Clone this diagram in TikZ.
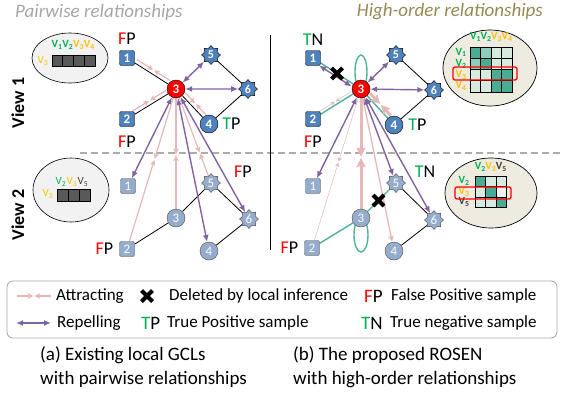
\documentclass[tikz,border=0pt]{standalone}
\usepackage{fontspec}
\setmainfont{Carlito}
\usetikzlibrary{arrows.meta,positioning,calc,shapes.geometric,backgrounds}

\newcommand{\fsize}[1]{\fontsize{#1}{#1}\selectfont}
% two pink arrows meeting at a point between the nodes
\newcommand{\attract}[4][]{%
  \draw[pull,#1] (#2) -- ($(#2)!#4!(#3)$);
  \draw[pull,#1] (#3) -- ($(#2)!#4!(#3)$);}

\definecolor{nodeblue}{RGB}{79,129,189}
\definecolor{nodepale}{RGB}{149,172,204}
\definecolor{attrpink}{RGB}{230,184,183}
\definecolor{repurple}{RGB}{128,100,162}
\definecolor{hyperteal}{RGB}{80,178,155}
\definecolor{fpred}{RGB}{255,0,0}
\definecolor{tpgreen}{RGB}{0,176,80}
\definecolor{vyellow}{RGB}{255,192,0}
\definecolor{cellD}{RGB}{75,172,150}
\definecolor{cellM}{RGB}{140,205,188}
\definecolor{cellL}{RGB}{214,234,224}
\definecolor{cellW}{RGB}{238,243,235}
\definecolor{beige}{RGB}{238,236,225}
\definecolor{bargray}{RGB}{89,89,89}
\definecolor{titlegray}{RGB}{166,166,166}
\definecolor{titleolive}{RGB}{148,138,84}

\tikzset{
    sqnode/.style={rectangle, rounded corners=2pt, draw=black, fill=nodeblue, minimum size=15pt, inner sep=0pt, text=white, font=\fsize{13}\bfseries},
    cirnode/.style={circle, draw=black, fill=nodeblue, minimum size=18pt, inner sep=0pt, text=white, font=\fsize{13}\bfseries},
    starnode/.style={star, star points=8, star point ratio=1.35, draw=black, fill=nodeblue, minimum size=19pt, inner sep=0pt, text=white, font=\fsize{12}\bfseries},
    hubnode/.style={cirnode, fill=red},
    faded/.style={fill=nodepale, draw=black!70, font=\fsize{13}},
    lbl/.style={inner sep=0pt, font=\fsize{18}},
    blk/.style={draw=black, line width=0.8pt},
    repel/.style={{Latex[length=7pt,width=6pt]}-{Latex[length=7pt,width=6pt]}, draw=repurple, line width=1.4pt},
    pull/.style={-{Stealth[length=3pt 2, width=3pt 2, inset=1pt]}, draw=attrpink, line width=1.2pt, shorten >=0.6pt},
    hyper/.style={draw=hyperteal, line width=1.4pt},
    ttl/.style={inner sep=0pt, font=\fsize{19}\itshape},
    viewlab/.style={rotate=90, inner sep=0pt, font=\fsize{18}\bfseries},
    vsub/.style={inner sep=0pt, font=\fsize{11}\bfseries},
    legtext/.style={inner sep=0pt, anchor=west, font=\fsize{17}},
    delmark/.pic={\draw[line width=4pt] (-5.5,-5.5) -- (5.5,5.5) (-5.5,5.5) -- (5.5,-5.5);}
}

\begin{document}
\begin{tikzpicture}[x=1pt, y=-1pt]
    \useasboundingbox (0,0) rectangle (565,402);

    % titles
    \node[ttl, text=titlegray, anchor=west] at (15,12) {Pairwise relationships};
    \node[ttl, text=titleolive, anchor=east] at (543,12) {High-order relationships};
    \node[viewlab] at (18,103) {View 1};
    \node[viewlab] at (18,215) {View 2};

    % feature bars (left)
    \draw[fill=black!5, line width=0.6pt] (70,58) ellipse [x radius=38pt, y radius=25pt];
    \foreach \i in {0,...,3}
      \draw[fill=bargray, line width=0.6pt] ({52+\i*10.75},55) rectangle +(10.75,11);
    \foreach \k/\col [count=\i from 0] in {1/tpgreen,2/tpgreen,3/vyellow,4/vyellow}
      \node[vsub, text=\col] at ({57+\i*10.75},45) {V\textsubscript{\k}};
    \node[vsub, text=vyellow, font=\fsize{11}] at (43,61) {V\textsubscript{3}};

    \draw[fill=black!5, line width=0.6pt] (71,190) ellipse [x radius=38pt, y radius=32pt];
    \foreach \i in {0,...,2}
      \draw[fill=bargray, line width=0.6pt] ({57+\i*11},189) rectangle +(11,12);
    \foreach \k/\col [count=\i from 0] in {2/tpgreen,3/vyellow,5/black!75}
      \node[vsub, text=\col, font=\fsize{11}] at ({61+\i*11},182) {V\textsubscript{\k}};
    \node[vsub, text=vyellow, font=\fsize{11}] at (48,194) {V\textsubscript{3}};

    % similarity matrices (right)
    \draw[fill=beige, line width=0.7pt] (490,68) ellipse [x radius=47pt, y radius=38pt];
    \foreach \row [count=\i from 0] in {{D,M,L,L},{M,D,L,L},{L,L,D,D},{L,L,D,D}}
      \foreach \col [count=\j from 0] in \row
        \draw[fill=cell\col, line width=0.6pt] ({470+\j*10.5},{47+\i*11.2}) rectangle +(10.5,11.2);
    \foreach \k/\col [count=\i from 0] in {1/tpgreen,2/tpgreen,3/vyellow,4/vyellow} {
      \node[vsub, text=\col] at ({475.5+\i*10.5},37) {V\textsubscript{\k}};
      \node[vsub, text=\col] at (461,{52.6+\i*11.2}) {V\textsubscript{\k}};
    }
    \draw[red, line width=1.3pt, rounded corners=2pt] (453,67) rectangle (517,80);

    \draw[fill=beige, line width=0.7pt] (491,193) ellipse [x radius=46pt, y radius=35pt];
    \foreach \row [count=\i from 0] in {{D,L,L},{L,D,W},{L,L,D}}
      \foreach \col [count=\j from 0] in \row
        \draw[fill=cell\col, line width=0.6pt] ({475+\j*10.5},{176+\i*10.5}) rectangle +(10.5,10.5);
    \foreach \k/\col [count=\i from 0] in {2/tpgreen,3/vyellow,5/black!75} {
      \node[vsub, text=\col] at ({480.25+\i*10.5},167) {V\textsubscript{\k}};
      \node[vsub, text=\col] at (464,{181.25+\i*10.5}) {V\textsubscript{\k}};
    }
    \draw[red, line width=1.3pt, rounded corners=2pt] (455,187) rectangle (511,199);

    % pairwise graph, view 1
    \node[sqnode] (l1) at (127,58) {1};
    \node[starnode] (l5) at (211,55) {5};
    \node[hubnode] (l3) at (176,89) {3};
    \node[starnode] (l6) at (248,89) {6};
    \node[sqnode] (l2) at (127,119) {2};
    \node[cirnode] (l4) at (209,124) {4};
    \node[lbl, above=6pt of l1] {\textcolor{fpred}{F}P};
    \node[lbl, below=9pt of l2] {\textcolor{fpred}{F}P};
    \node[lbl, right=4pt of l4] {\textcolor{tpgreen}{T}P};

    % pairwise graph, view 2
    \node[sqnode, faded] (m1) at (128,186) {1};
    \node[starnode, faded] (m5) at (211,183) {5};
    \node[cirnode, faded] (m3) at (176,218) {3};
    \node[starnode, faded] (m6) at (249,219) {6};
    \node[sqnode, faded] (m2) at (127,249) {2};
    \node[cirnode, faded] (m4) at (209,251) {4};
    \node[lbl, left=6pt of m2] {\textcolor{fpred}{F}P};
    \node[lbl] at (243,172) {\textcolor{fpred}{F}P};

    % high-order graph, view 1
    \node[sqnode] (r1) at (313,58) {1};
    \node[starnode] (r5) at (396,55) {5};
    \node[hubnode] (r3) at (361,89) {3};
    \node[starnode] (r6) at (434,90) {6};
    \node[sqnode] (r2) at (313,119) {2};
    \node[cirnode] (r4) at (394,125) {4};
    \node[lbl, above=5pt of r1] {\textcolor{tpgreen}{T}N};
    \node[lbl, below=9pt of r2] {\textcolor{fpred}{F}P};
    \node[lbl, right=5pt of r4] {\textcolor{tpgreen}{T}P};

    % high-order graph, view 2
    \node[sqnode, faded] (s1) at (313,186) {1};
    \node[starnode, faded] (s5) at (396,183) {5};
    \node[cirnode, faded] (s3) at (361,218) {3};
    \node[starnode, faded] (s6) at (434,220) {6};
    \node[sqnode, faded] (s2) at (312,248) {2};
    \node[cirnode, faded] (s4) at (394,251) {4};
    \node[lbl, left=6pt of s2] {\textcolor{fpred}{F}P};
    \node[lbl] at (425,172) {\textcolor{tpgreen}{T}N};

    \begin{scope}[on background layer]
      \draw[gray!65, line width=1.5pt, dash pattern=on 7pt off 4pt] (80,153) -- (560,153);
      \draw[line width=0.8pt] (270,35) -- (270,250);

      % left: edges inside the views
      \draw[blk] (l1) -- (l3);
      \draw[blk] (l2) -- (l3);
      \draw[blk] (l3) -- (l4);
      \draw[blk] (l5) -- (l6) -- (l4);
      \draw[repel] (l3) -- (l5);
      \draw[repel] (l3) -- (l6);
      \attract[transform canvas={shift={(2.1,-3.4)}}]{l1}{l3}{0.5}
      \attract[transform canvas={shift={(-2,-3.4)}}]{l2}{l3}{0.5}
      \attract[transform canvas={shift={(3,-2.8)}}]{l3}{l4}{0.5}
      \draw[blk] (m2) -- (m3) -- (m5) -- (m6) -- (m4);

      % left: across the views
      \draw[repel] (l3) -- (m1);
      \draw[repel] (l3) -- (m4);
      \draw[repel] (l3) -- (m6);
      \attract{l3}{m2}{0.44}
      \attract{l3}{m3}{0.51}
      \attract{l3}{m5}{0.68}

      % right: edges inside the views
      \draw[hyper] (r1) -- (r3);
      \draw[hyper] (r2) -- (r3);
      \draw[hyper] (r3) -- (r4);
      \draw[hyper] ($(r3)+(0,-17)$) ellipse [x radius=6pt, y radius=17pt];
      \draw[repel, transform canvas={shift={(-1.6,2.5)}}] (r1) -- (r3);
      \attract[line width=0.5pt, transform canvas={shift={(-1.6,-2.6)}}]{r2}{r3}{0.5}
      \attract[line width=3pt, transform canvas={shift={(3,-2.5)}}]{r3}{r4}{0.5}
      \draw[repel] (r3) -- (r5);
      \draw[repel] (r3) -- (r6);
      \draw[blk] (r5) -- (r6) -- (r4);
      \draw[hyper] (s2) -- (s3) -- (s5);
      \draw[hyper] ($(s3)+(0,17)$) ellipse [x radius=7pt, y radius=17pt];
      \draw[blk] (s5) -- (s6) -- (s4);

      % right: across the views
      \draw[repel] (r3) -- (s1);
      \attract[line width=0.5pt]{r3}{s2}{0.46}
      \attract[line width=3pt]{r3}{s3}{0.53}
      \draw[pull, line width=1.3pt] (r3) -- (s4);
      \draw[repel] (r3) -- (s5);
      \draw[repel] (r3) -- (s6);
    \end{scope}

    % edges removed by local inference
    \pic at ($(r1)!0.5!(r3)$) {delmark};
    \pic at ($(s3)!0.5!(s5)$) {delmark};

    % legend
    \draw[gray!70, line width=0.8pt, rounded corners=6pt] (7,281) rectangle (557,338);
    \coordinate (pa) at (17,296);
    \coordinate (pb) at (51,296);
    \attract{pa}{pb}{0.5}
    \node[legtext] at (56,296) {Attracting};
    \pic at (147,296) {delmark};
    \node[legtext] at (169,296) {Deleted by local inference};
    \node[legtext, font=\fsize{19}] at (364,296) {\textcolor{fpred}{F}P};
    \node[legtext] at (391,296) {False Positive sample};
    \coordinate (ra) at (16,323);
    \coordinate (rb) at (51,323);
    \draw[repel] (ra) -- (rb);
    \node[legtext] at (57,323) {Repelling};
    \node[legtext, font=\fsize{19}] at (141,323) {\textcolor{tpgreen}{T}P};
    \node[legtext] at (167,323) {True Positive sample};
    \node[legtext, font=\fsize{19}] at (361,323) {\textcolor{tpgreen}{T}N};
    \node[legtext] at (390,323) {True negative sample};

    % captions
    \node[anchor=north west, align=left, inner sep=0pt, font=\fontsize{19}{24}\selectfont] at (40,346)
      {(a) Existing local GCLs\\with pairwise relationships};
    \node[anchor=north west, align=left, inner sep=0pt, font=\fontsize{19}{24}\selectfont] at (293,346)
      {(b) The proposed ROSEN\\with high-order relationships};
\end{tikzpicture}
\end{document}
